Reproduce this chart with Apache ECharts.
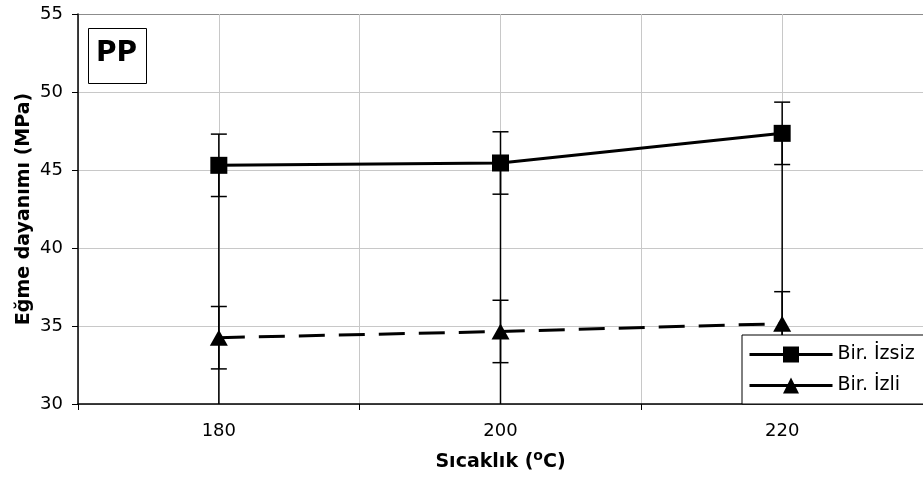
<!DOCTYPE html>
<html>
<head>
<meta charset="utf-8">
<script src="https://cdn.jsdelivr.net/npm/echarts@6/dist/echarts.min.js"></script>
<style>
  html, body { margin: 0; padding: 0; background: #fff; }
  #chart { width: 923px; height: 479px; }
</style>
</head>
<body>
<div id="chart"></div>
<script>
// Flexural strength of PP specimens vs. processing temperature
const temperatures = [180, 200, 220];
const tempLabels = ['180', '200', '220'];
const unnotched = [45.3, 45.45, 47.35];      // Bir. İzsiz
const unnotchedErr = [2.0, 2.0, 2.0];
const notched = [34.25, 34.65, 35.15];       // Bir. İzli
const notchedErr = [2.0, 2.0, 2.05];
const yTicks = { min: 30, max: 55, step: 5 };

const FONT = '"DejaVu Sans", "Liberation Sans", Arial, sans-serif';

function errRows(vals, errs) {
  return temperatures.map((t, i) => [t, vals[i] - errs[i], vals[i] + errs[i]]);
}

// vertical error bar with horizontal caps
function renderErr(params, api) {
  const x = api.value(0);
  const lo = api.coord([x, api.value(1)]);
  const hi = api.coord([x, api.value(2)]);
  const cap = 8;
  const style = { stroke: '#000', lineWidth: 1.5 };
  return {
    type: 'group',
    children: [
      { type: 'line', shape: { x1: lo[0], y1: lo[1], x2: hi[0], y2: hi[1] }, style },
      { type: 'line', shape: { x1: hi[0] - cap, y1: hi[1], x2: hi[0] + cap, y2: hi[1] }, style },
      { type: 'line', shape: { x1: lo[0] - cap, y1: lo[1], x2: lo[0] + cap, y2: lo[1] }, style }
    ]
  };
}

// drop line from the upper series point down to the axis
function renderDrop(params, api) {
  const x = api.value(0);
  const top = api.coord([x, api.value(1)]);
  const bot = api.coord([x, yTicks.min]);
  return {
    type: 'line',
    shape: { x1: top[0], y1: top[1], x2: bot[0], y2: bot[1] },
    style: { stroke: '#000', lineWidth: 1.5 }
  };
}

const gridGray = '#c8c8c8';
const chart = echarts.init(document.getElementById('chart'), null, { renderer: 'canvas' });

chart.setOption({
  backgroundColor: '#fff',
  animation: false,
  grid: { left: 78, width: 850, top: 14, bottom: 75, containLabel: false },
  xAxis: [
    {
      type: 'value',
      min: 170, max: 230, interval: 10,
      axisLine: { show: false },
      axisTick: { show: false },
      axisLabel: { show: false },
      splitLine: { show: true, lineStyle: { color: gridGray, width: 1 } }
    },
    {
      type: 'category',
      data: tempLabels,
      position: 'bottom',
      boundaryGap: true,
      axisLine: { show: true, lineStyle: { color: '#000', width: 1.5 } },
      axisTick: { show: true, length: 6, lineStyle: { color: '#000', width: 1 } },
      axisLabel: { color: '#000', fontFamily: FONT, fontSize: 18, margin: 18 },
      splitLine: { show: false },
      name: 'Sıcaklık ({sup|o}C)',
      nameLocation: 'middle',
      nameGap: 45,
      nameMoveOverlap: false,
      nameTextStyle: {
        color: '#000', fontFamily: FONT, fontSize: 19, fontWeight: 'bold',
        rich: { sup: { fontSize: 14, fontWeight: 'bold', fontFamily: FONT, verticalAlign: 'top', padding: [0, 0, 12, 0] } }
      }
    }
  ],
  yAxis: {
    type: 'value',
    min: yTicks.min, max: yTicks.max, interval: yTicks.step,
    axisLine: { show: true, lineStyle: { color: '#000', width: 1.5 } },
    axisTick: { show: true, length: 6, lineStyle: { color: '#000' } },
    axisLabel: { color: '#000', fontFamily: FONT, fontSize: 18, margin: 15 },
    splitLine: { show: true, lineStyle: { color: [gridGray, gridGray, gridGray, gridGray, gridGray, '#8c8c8c'], width: 1 } },
    name: 'Eğme dayanımı (MPa)',
    nameLocation: 'middle',
    nameGap: 44,
    nameMoveOverlap: false,
    nameTextStyle: { color: '#000', fontFamily: FONT, fontSize: 19, fontWeight: 'bold' }
  },
  legend: {
    orient: 'vertical',
    left: 742, top: 335,
    padding: [10, 40, 9, 6],
    itemWidth: 83, itemHeight: 20, itemGap: 12,
    borderColor: '#000', borderWidth: 1,
    backgroundColor: '#fff',
    textStyle: { color: '#000', fontFamily: FONT, fontSize: 19 },
    data: [
      { name: 'Bir. İzsiz', lineStyle: { color: '#000', width: 3, type: 'solid' } },
      { name: 'Bir. İzli', lineStyle: { color: '#000', width: 3, type: 'solid' } }
    ]
  },
  graphic: [
    { type: 'rect', left: 88, top: 28, shape: { width: 58, height: 55 }, style: { fill: '#fff', stroke: '#000', lineWidth: 1 }, z: 10 },
    { type: 'text', left: 96, top: 40, style: { text: 'PP', fill: '#000', font: 'bold 28px "DejaVu Sans", sans-serif' }, z: 11 }
  ],
  series: [
    {
      type: 'custom', name: 'drop', xAxisIndex: 0, renderItem: renderDrop,
      data: temperatures.map((t, i) => [t, Math.max(unnotched[i], notched[i])]),
      z: 1, silent: true
    },
    {
      type: 'custom', name: 'errA', xAxisIndex: 0, renderItem: renderErr,
      data: errRows(unnotched, unnotchedErr), z: 1, silent: true
    },
    {
      type: 'custom', name: 'errB', xAxisIndex: 0, renderItem: renderErr,
      data: errRows(notched, notchedErr), z: 1, silent: true
    },
    {
      name: 'Bir. İzsiz', type: 'line', xAxisIndex: 0,
      data: temperatures.map((t, i) => [t, unnotched[i]]),
      symbol: 'rect', symbolSize: 17,
      lineStyle: { color: '#000', width: 3 },
      itemStyle: { color: '#000', borderWidth: 0 },
      z: 3
    },
    {
      name: 'Bir. İzli', type: 'line', xAxisIndex: 0,
      data: temperatures.map((t, i) => [t, notched[i]]),
      symbol: 'triangle', symbolSize: [18, 16],
      lineStyle: { color: '#000', width: 3, type: [26, 14] },
      itemStyle: { color: '#000', borderWidth: 0 },
      z: 3
    }
  ]
});
</script>
</body>
</html>
